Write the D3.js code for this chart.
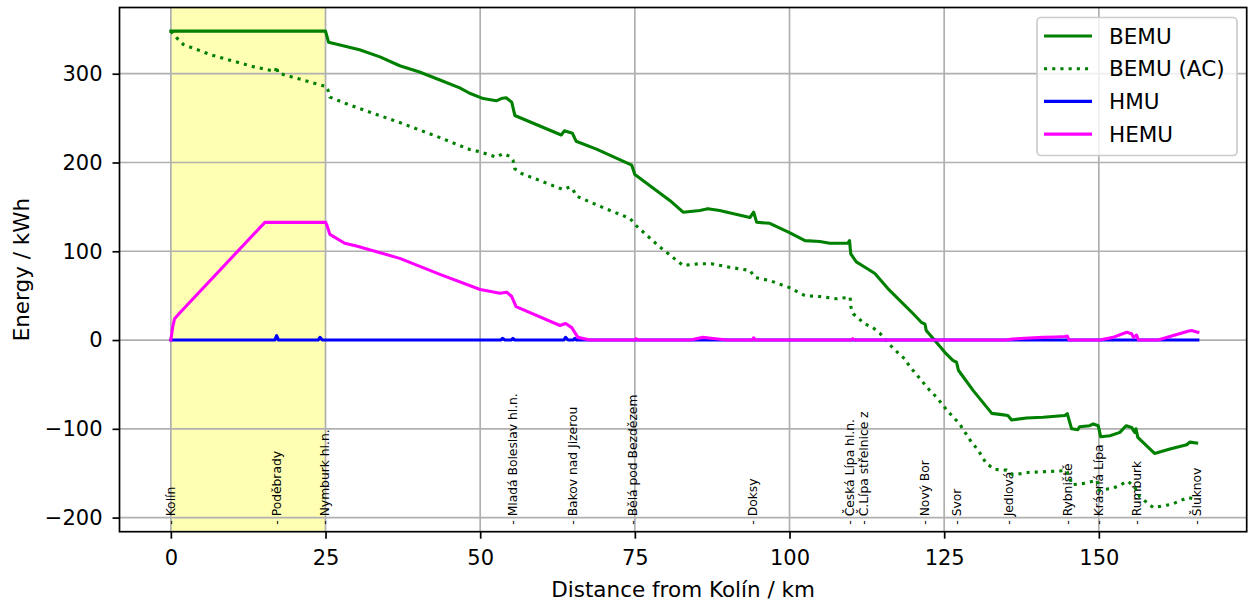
<!DOCTYPE html>
<html><head><meta charset="utf-8">
<script src="https://cdn.jsdelivr.net/npm/d3@7"></script>
<style>
html,body{margin:0;padding:0;background:#fff;}
svg{display:block;font-family:"DejaVu Sans",sans-serif;}
</style></head>
<body>
<svg id="chart" width="1249" height="602"></svg>
<script>
// ---- data (km, kWh) ----
const seriesNames = ["BEMU", "BEMU (AC)", "HMU", "HEMU"];
const bemu = [[0,348],[25,348],[25.5,335.4],[30.5,327],[33.8,319],[37,309],[40.2,302],[43.5,293],[46.7,284],[48.3,278],[50.5,272],[52.6,269.5],[53.4,272],[54.2,273],[55.1,268],[55.6,253],[63.1,231],[63.6,235.7],[64.4,234],[64.9,233],[65.5,224],[68.8,215],[74.5,197],[75,186.5],[80.7,157],[82.8,144],[85.5,146],[86.8,148],[88.7,146],[93.6,138],[94.2,144],[94.7,132.6],[96.8,131.5],[100,121],[102.5,112],[104.9,111],[106.5,109],[109.4,109],[109.7,112],[109.9,97],[110.8,88],[112.2,82],[113.8,75],[115.9,58],[118.1,42.7],[120,29.6],[121.3,20],[121.9,18],[122.1,10.7],[123.5,-0.6],[125.1,-13.8],[126.4,-23],[127,-25],[127.3,-34],[129.7,-57],[132.7,-82.6],[134.3,-84],[135.3,-85],[135.9,-90],[138.3,-87.8],[141,-87],[144.5,-85],[144.9,-83],[145.6,-100],[146.6,-101],[146.9,-97.6],[148.5,-96.5],[149.1,-94.6],[149.9,-96.5],[150.3,-109],[151.8,-107.8],[153.4,-104],[154.4,-96.5],[155.3,-98.4],[155.8,-104],[156,-100],[156.3,-109.7],[159,-127.8],[161.5,-122.8],[164.2,-118],[164.7,-115],[165.8,-116]];
const bemuAC = [[0,348],[1,340],[2,333],[6.6,321],[13.3,308],[16.9,302.5],[17.1,308.7],[17.3,300.8],[24.9,286],[25.1,286],[25.4,281.6],[25.7,273.7],[28.9,264.7],[37,245],[43.5,228],[48.3,214.6],[50,212],[52.6,206],[53.7,210],[54.8,207],[55.3,202.6],[55.6,193],[56.7,187.6],[63.4,169.5],[64.5,172.5],[65,169.5],[65.6,162],[69.9,149],[71,146],[74.2,137],[75.2,129],[79,105],[82.8,84],[85.5,86],[87.4,86],[90.3,82],[93.6,78.4],[94.4,70.5],[96.8,67],[100,59],[102.5,50],[104.9,49],[107.6,46.5],[109.8,48.3],[109.9,37.8],[110.3,29.6],[111.4,22.8],[112.2,18.3],[113.5,13.8],[114.6,7.7],[116.5,-7.3],[117.6,-14.9],[118.6,-21],[119.4,-29.5],[122.7,-57],[123.8,-64.6],[125.4,-78.8],[127.5,-94.6],[129.4,-115],[130.5,-124],[131.8,-139],[133.2,-145.8],[135.1,-146.5],[136.1,-151.8],[138.8,-149],[142.1,-148],[144.8,-147],[145.3,-155],[145.6,-163],[147.5,-161.6],[149.1,-159],[149.7,-157.8],[150,-169],[152.3,-167],[154.7,-159],[155.8,-166],[156.6,-176.6],[158.8,-188.7],[161.8,-185],[164.4,-177.4],[165.5,-179]];
const hmu = [[0,0],[16.8,0],[17.1,5],[17.4,0],[23.8,0],[24.1,3],[24.5,0],[53.3,0],[53.6,2],[54,0],[55,0],[55.3,2],[55.6,0],[63.5,0],[63.8,3],[64.2,0],[65,0],[65.3,2],[65.6,0],[166,0]];
const hemu = [[0,0],[0.3,15],[0.6,24],[1.5,31],[15.2,132.6],[25,132.6],[25.2,130],[25.7,119],[28.1,109],[30,106],[37,92],[43.5,74],[50,57],[53.2,52.7],[54.3,53.8],[55.1,49],[55.8,37.7],[62.9,16.4],[63.8,18.6],[64.8,14],[65.8,3],[67.7,0],[75,0],[75.2,1.5],[75.5,0],[84,0],[86,3],[88,1.5],[90,0],[94,0],[94.2,2.5],[94.5,0],[110,0],[110.2,1.5],[110.5,0],[135,0],[136,1],[138,2],[141,3],[143,3.5],[144.5,4],[144.9,4.5],[145.2,0],[150.2,0],[152.3,3],[154.5,8.8],[155.3,7],[155.6,3],[156.1,5.6],[156.4,0],[159.6,0],[161.5,4],[164.4,10],[165,10.7],[166,8.8]];
const stationNames = ["Kolín","Poděbrady","Nymburk hl.n.","Mladá Boleslav hl.n.","Bakov nad Jizerou","Bělá pod Bezdězem","Doksy","Česká Lípa hl.n.","Č.Lípa střelnice z","Nový Bor","Svor","Jedlová","Rybniště","Krásná Lípa","Rumburk","Šluknov"];
const stationKm = [0,17.1,24.9,55.3,65.0,74.6,94.1,109.7,112.0,121.9,127.0,135.4,144.9,149.9,156.1,165.8];
const xTicks = [0,25,50,75,100,125,150];
const yTicks = [-200,-100,0,100,200,300];
const spanKm = [0,25];
const xDomain = [-8.3, 173.9];
const yDomain = [-215.9, 374.6];

// ---- layout ----
const W = 1249, H = 602;
const m = {left:119.5, right:2.3, top:7.5, bottom:70.3};
const svg = d3.select("#chart");
const x = d3.scaleLinear().domain(xDomain).range([m.left, W - m.right]);
const y = d3.scaleLinear().domain(yDomain).range([H - m.bottom, m.top]);
const fmt = d => d < 0 ? "\u2212" + (-d) : String(d);

// shaded span
svg.append("rect")
  .attr("x", x(spanKm[0])).attr("width", x(spanKm[1]) - x(spanKm[0]))
  .attr("y", m.top).attr("height", H - m.bottom - m.top)
  .attr("fill", "#ffffb3");

// grid
const g = svg.append("g");
g.selectAll(".gx").data(xTicks).join("line")
  .attr("x1", d => x(d)).attr("x2", d => x(d))
  .attr("y1", m.top).attr("y2", H - m.bottom)
  .attr("stroke", "#b0b0b0").attr("stroke-width", 1.7);
g.selectAll(".gy").data(yTicks).join("line")
  .attr("y1", d => y(d)).attr("y2", d => y(d))
  .attr("x1", m.left).attr("x2", W - m.right)
  .attr("stroke", "#b0b0b0").attr("stroke-width", 1.7);

// station labels
svg.append("g").selectAll("text").data(stationNames).join("text")
  .attr("transform", (d, i) => `translate(${x(stationKm[i])},${y(-208)}) rotate(-90)`)
  .attr("dy", "0.35em")
  .attr("font-size", 12.3)
  .attr("fill", "#000")
  .text(d => "- " + d);

// lines
const line = d3.line().x(d => x(d[0])).y(d => y(d[1]));
const plotG = svg.append("g");
plotG.append("path").attr("d", line(bemu)).attr("fill","none").attr("stroke","#008000").attr("stroke-width",3.1).attr("stroke-linejoin","round").attr("stroke-linecap","square");
plotG.append("path").attr("d", line(bemuAC)).attr("fill","none").attr("stroke","#008000").attr("stroke-width",3.1).attr("stroke-dasharray","3.1,5.1");
plotG.append("path").attr("d", line(hmu)).attr("fill","none").attr("stroke","#0000ff").attr("stroke-width",3.1).attr("stroke-linejoin","round").attr("stroke-linecap","square");
plotG.append("path").attr("d", line(hemu)).attr("fill","none").attr("stroke","#ff00ff").attr("stroke-width",3.1).attr("stroke-linejoin","round").attr("stroke-linecap","square");

// axes
const xAxis = svg.append("g").attr("transform", `translate(0,${H - m.bottom})`)
  .call(d3.axisBottom(x).tickValues(xTicks).tickFormat(fmt).tickSize(7).tickPadding(11.5));
const yAxis = svg.append("g").attr("transform", `translate(${m.left},0)`)
  .call(d3.axisLeft(y).tickValues(yTicks).tickFormat(fmt).tickSize(7).tickPadding(10));
[xAxis, yAxis].forEach(a => {
  a.select(".domain").remove();
  a.selectAll(".tick line").attr("stroke", "#000").attr("stroke-width", 1.7);
  a.selectAll(".tick text").attr("font-size", 21).attr("font-family", "DejaVu Sans").attr("fill", "#000");
});
// frame
svg.append("rect").attr("x", m.left).attr("y", m.top)
  .attr("width", W - m.right - m.left).attr("height", H - m.bottom - m.top)
  .attr("fill", "none").attr("stroke", "#000").attr("stroke-width", 1.7);

// axis labels
svg.append("text").attr("x", (m.left + W - m.right) / 2).attr("y", 596.5)
  .attr("text-anchor", "middle").attr("font-size", 21.5).text("Distance from Kolín / km");
svg.append("text").attr("transform", `translate(29,${(m.top + H - m.bottom) / 2}) rotate(-90)`)
  .attr("text-anchor", "middle").attr("font-size", 21.5).text("Energy / kWh");

// legend
const legColors = ["#008000", "#008000", "#0000ff", "#ff00ff"];
const legDash = [null, "3.1,5.1", null, null];
const leg = svg.append("g");
leg.append("rect").attr("x", 1037).attr("y", 17.5).attr("width", 200).attr("height", 138)
  .attr("rx", 4).attr("fill", "#fff").attr("fill-opacity", 0.8)
  .attr("stroke", "#cccccc").attr("stroke-width", 1.7);
const rows = leg.selectAll("g.row").data(seriesNames).join("g")
  .attr("transform", (d, i) => `translate(0,${36 + i * 32.7})`);
rows.append("line").attr("x1", 1044).attr("x2", 1092).attr("y1", 0).attr("y2", 0)
  .attr("stroke", (d, i) => legColors[i]).attr("stroke-width", 3.1)
  .attr("stroke-dasharray", (d, i) => legDash[i]);
rows.append("text").attr("x", 1109).attr("dy", "0.36em").attr("font-size", 21.5).text(d => d);
</script>
</body></html>
